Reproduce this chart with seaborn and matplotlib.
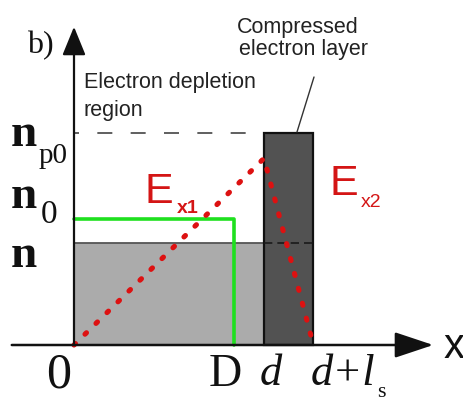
import matplotlib
matplotlib.use("Agg")
import matplotlib.pyplot as plt
import seaborn as sns
import pandas as pd
from matplotlib.patches import FancyArrowPatch

sns.set_style("white")
plt.rcParams['font.family'] = ['Liberation Sans', 'DejaVu Sans']

# ---- data (schematic values) ----
x_names = ["0", "D", "d", "d+l_s"]
x_vals = [0.0, 0.84, 1.0, 1.26]          # 0, D, d, d+l_s
level_names = ["n", "n_0", "n_p0"]
level_vals = [1.0, 1.24, 2.08]           # n, n0, np0
e_peak = 1.83                            # peak of E field at x = d

x0, xD, xd, xds = x_vals
n_lvl, n0_lvl, np0_lvl = level_vals

W, H = 464, 401
fig = plt.figure(figsize=(W / 100, H / 100), dpi=100)
ax = fig.add_axes([0, 0, 1, 1])
ax.set_xlim(-74 / 190, 390 / 190)
ax.set_ylim(-(H - 345) / 102, 345 / 102)
ax.axis("off")


def P(x, y):
    return (x / W, 1 - y / H)


# density rectangles
ax.bar(x0, n_lvl, width=xd - x0, align="edge", color="#ababab",
       edgecolor="none", zorder=1)
ax.plot([x0, xd], [n_lvl, n_lvl], color="#555555", lw=1.3, zorder=2)
ax.bar(xd, np0_lvl, width=xds - xd, align="edge", color="#525252",
       edgecolor="#111111", linewidth=1.6, zorder=2)

# dashed guide lines
ax.plot([x0, xd], [np0_lvl, np0_lvl], color="#444444", lw=1.2,
        linestyle=(6, (9, 11)), zorder=2)
ax.plot([xd, xds], [n_lvl, n_lvl], color="#1a1a1a", lw=1.2,
        linestyle=(0, (5, 3)), zorder=3)

# green n0 profile
green = pd.DataFrame({"x": [x0, xD, xD], "y": [n0_lvl, n0_lvl, 0.0]})
sns.lineplot(data=green, x="x", y="y", ax=ax, estimator=None, sort=False,
             color="#1fe01f", lw=2.6, zorder=4)

# red dotted E field
efield = pd.DataFrame({"x": [x0, xd, xds], "y": [0.0, e_peak, 0.0]})
sns.lineplot(data=efield, x="x", y="y", ax=ax, estimator=None, sort=False,
             color="#dd1111", lw=3.7, zorder=5,
             linestyle=(0, (0.4, 2.6)), dash_capstyle="round")
ax.set_xlabel("")
ax.set_ylabel("")
ax.axis("off")

# axes with arrows
arr_kw = dict(arrowstyle="-|>,head_length=1.1,head_width=0.45",
              mutation_scale=16, color="#111111", lw=1.6, zorder=6)
fig.patches.append(FancyArrowPatch(P(74, 346), P(74, 24),
                                   transform=fig.transFigure, **arr_kw))
arr_kw2 = dict(arrowstyle="-|>,head_length=1.5,head_width=0.5",
               mutation_scale=16, color="#111111", lw=1.8, zorder=6)
fig.patches.append(FancyArrowPatch(P(9, 345), P(436, 345),
                                   transform=fig.transFigure, **arr_kw2))

serif = "Liberation Serif"
tc = "#111111"
# panel label
fig.text(*P(27, 53), "b)", family=serif, fontsize=23, color=tc,
         ha="left", va="baseline")

# y level labels
fig.text(*P(11, 146), "n", family=serif, fontsize=34, fontweight="bold",
         color=tc, ha="left", va="baseline")
fig.text(*P(39, 163), "p0", family=serif, fontsize=21, color=tc,
         ha="left", va="baseline")
fig.text(*P(11, 208), "n", family=serif, fontsize=34, fontweight="bold",
         color=tc, ha="left", va="baseline")
fig.text(*P(41, 223), "0", family=serif, fontsize=24, color=tc,
         ha="left", va="baseline")
fig.text(*P(11, 267), "n", family=serif, fontsize=34, fontweight="bold",
         color=tc, ha="left", va="baseline")

# x labels
fig.text(*P(59, 388), x_names[0], family=serif, fontsize=36, color=tc,
         ha="center", va="baseline")
fig.text(*P(225, 386), x_names[1], family=serif, fontsize=33, color=tc,
         ha="center", va="baseline")
fig.text(*P(271, 385), "d", family=serif, fontsize=32, style="italic",
         color=tc, ha="center", va="baseline")
fig.text(*P(311, 385), "d+l", family=serif, fontsize=32, style="italic",
         color=tc, ha="left", va="baseline")
fig.text(*P(377, 397), "s", family=serif, fontsize=16, color=tc,
         ha="left", va="baseline")
fig.text(*P(454, 358), "x", fontsize=30, color=tc, ha="center",
         va="baseline")

# E field labels
red = "#d41515"
fig.text(*P(145, 203), "E", fontsize=31, color=red, ha="left", va="baseline")
fig.text(*P(177, 213), "x1", fontsize=14, color=red, fontweight="bold",
         ha="left", va="baseline")
fig.text(*P(330, 195), "E", fontsize=31, color=red, ha="left", va="baseline")
fig.text(*P(361, 207), "x2", fontsize=14, color=red, ha="left",
         va="baseline")

# annotations
ac = "#222222"
fig.text(*P(84, 88), "Electron depletion", fontsize=15.5, color=ac,
         ha="left", va="baseline")
fig.text(*P(84, 116), "region", fontsize=15.5, color=ac, ha="left",
         va="baseline")
fig.text(*P(298, 33), "Compressed", fontsize=15.5, color=ac, ha="center",
         va="baseline")
fig.text(*P(304, 55), "electron layer", fontsize=15.5, color=ac,
         ha="center", va="baseline")
fig.add_artist(plt.Line2D([314 / W, 297 / W], [1 - 77 / H, 1 - 132 / H],
                          transform=fig.transFigure, color="#333333", lw=1))

fig.savefig("out.png", dpi=100)
